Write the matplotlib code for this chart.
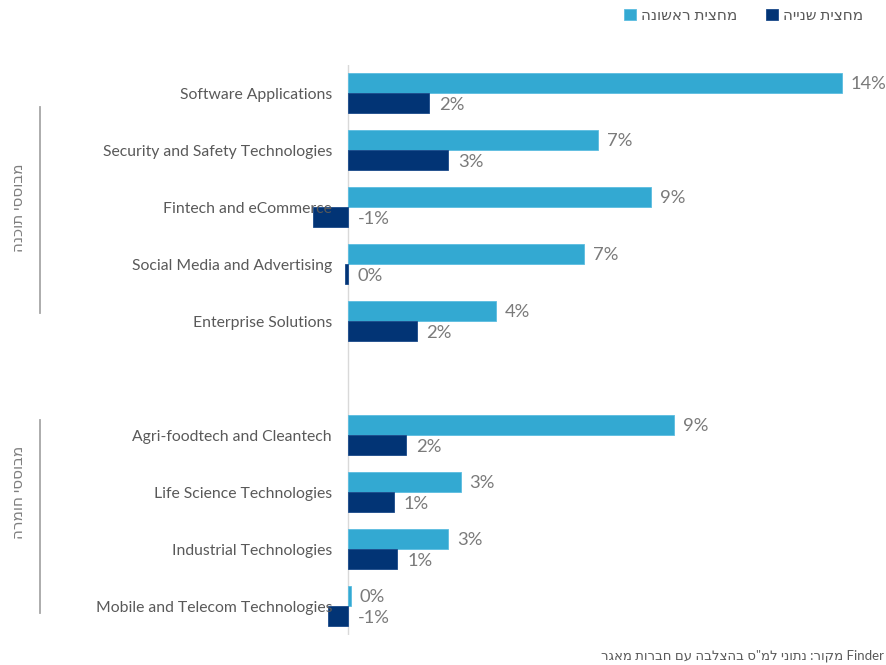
import matplotlib
matplotlib.use("Agg")
import matplotlib.pyplot as plt
from matplotlib.lines import Line2D

plt.rcParams['font.family'] = ['Lato', 'DejaVu Sans']

# ---- data ----
categories = [
    "Software Applications",
    "Security and Safety Technologies",
    "Fintech and eCommerce",
    "Social Media and Advertising",
    "Enterprise Solutions",
    "Agri-foodtech and Cleantech",
    "Life Science Technologies",
    "Industrial Technologies",
    "Mobile and Telecom Technologies",
]
first_half = [14.0, 7.1, 8.6, 6.7, 4.2, 9.25, 3.2, 2.85, 0.08]
second_half = [2.3, 2.85, -1.0, -0.08, 1.95, 1.65, 1.3, 1.4, -0.57]
group_names = ["מבוססי תוכנה", "מבוססי חומרה"]
group_sizes = [5, 4]
series_names = ["מחצית ראשונה", "מחצית שנייה"]
source_text = 'מקור: נתוני למ"ס בהצלבה עם חברות מאגר'
source_db = "Finder"

def vis(s):
    """Hebrew visual order (matplotlib has no bidi)."""
    return s[::-1]

c_first = "#33A9D2"
c_second = "#023475"
label_col = "#595959"
value_col = "#7a7a7a"

W, H = 886, 665
fig = plt.figure(figsize=(W / 100, H / 100), dpi=100)

# axes placement (pixels)
x_left_px, x_right_px = 295, 877
y_top_px, y_bot_px = 64.5, 634.5
ax = fig.add_axes([x_left_px / W, 1 - y_bot_px / H,
                   (x_right_px - x_left_px) / W, (y_bot_px - y_top_px) / H])

# positions with a blank slot between groups
positions = []
p = 0
for gi, n in enumerate(group_sizes):
    for _ in range(n):
        positions.append(p)
        p += 1
    p += 1
nslots = p - 1

bh = 0.35
b1 = ax.barh([y - bh / 2 for y in positions], first_half, height=bh,
             color=c_first, edgecolor="#5cbde0", linewidth=0.6,
             label=vis(series_names[0]))
b2 = ax.barh([y + bh / 2 for y in positions], second_half, height=bh,
             color=c_second, edgecolor="#1a4a8a", linewidth=0.6,
             label=vis(series_names[1]))
for b in list(b1) + list(b2):
    b.set_clip_on(False)

ax.set_xlim(-1.5, 15)
ax.set_ylim(nslots - 0.5, -0.5)
ax.axis("off")
ax.axvline(0, color="#d9d9d9", lw=1.0, zorder=0)

def fmt(v):
    r = int(round(v))
    return f"{r}%"

for y, v1, v2 in zip(positions, first_half, second_half):
    ax.text(max(v1, 0) + 0.25, y - bh / 2 + 0.02, fmt(v1), ha="left", va="center",
            fontsize=13.2, color=value_col)
    ax.text(max(v2, 0) + 0.28, y + bh / 2 + 0.04, fmt(v2), ha="left", va="center",
            fontsize=13.2, color=value_col)

for y, name in zip(positions, categories):
    ax.text(-0.45, y + 0.03, name, ha="right", va="center", fontsize=11.3,
            color=label_col)

# group brackets
line_spans = [(107, 313), (420, 613)]
text_centers = [208, 492]
for gi, n in enumerate(group_sizes):
    y0, y1 = line_spans[gi]
    fig.add_artist(Line2D([40 / W, 40 / W], [1 - y0 / H, 1 - y1 / H],
                          color="#a6a6a6", lw=1.3))
    fig.text(19 / W, 1 - text_centers[gi] / H,
             vis(group_names[gi]), rotation=90, ha="center", va="center",
             fontsize=11, color="#7f7f7f")

# legend
leg = fig.legend(handles=[b1, b2], labels=[vis(series_names[0]), vis(series_names[1])],
                 ncol=2, loc="upper right", bbox_to_anchor=(0.99, 1.007),
                 frameon=False, handlelength=0.75, handleheight=0.75,
                 handletextpad=0.35, columnspacing=1.9, fontsize=11)
for t in leg.get_texts():
    t.set_color(label_col)

# source
fig.text(884 / W, 1 - 656 / H, vis(source_text) + " " + source_db,
         ha="right", va="center", fontsize=9.5, color=label_col)

fig.savefig("out.png", dpi=100)
